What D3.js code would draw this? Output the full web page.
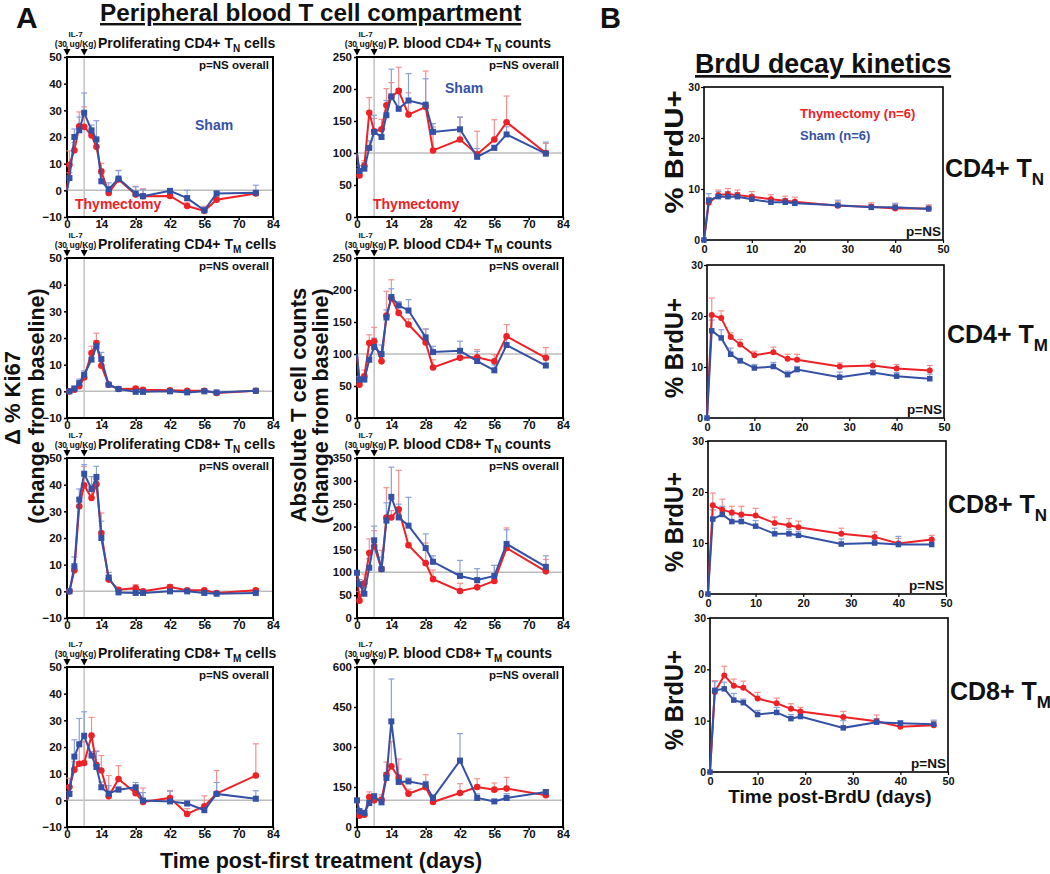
<!DOCTYPE html>
<html><head><meta charset="utf-8">
<script src="https://cdn.jsdelivr.net/npm/d3@7"></script>
<style>
body{margin:0;background:#fff;}
svg{display:block;font-family:"Liberation Sans",Arial,Helvetica,sans-serif;font-weight:bold;}
</style></head><body>
<svg id="chart" width="1050" height="874"></svg>
<script>
// ---------- DATA ----------
const daysA = [0,1,3,5,7,10,12,14,17,21,28,31,42,49,56,61,77];
const daysB = [0,1,3,5,7,10,14,17,19,28,35,40,47];

const ticksDays = [0,14,28,42,56,70,84];
const ticksProlif = [-10,0,10,20,30,40,50];
const ticksCount250 = [0,50,100,150,200,250];
const ticksCount350 = [0,50,100,150,200,250,300,350];
const ticksCount600 = [0,150,300,450,600];
const ticksBrduX = [0,10,20,30,40,50];
const ticksBrduY = [0,10,20,30];

// A: Proliferating CD4+ TN
const prolifCD4N_thy     = [0,9.6,15,24,23.8,20.6,16.3,7.1,-1,4.1,-1.6,-2.2,-2.1,-5.9,-7.7,-3.5,-1.2];
const prolifCD4N_thyErr  = [0,5.2,3,5.4,7.5,2,3,3,2.3,3.4,3.1,2.8,1.5,1.5,1.7,1.5,1];
const prolifCD4N_sham    = [0,4.6,20,22.5,29.1,22.5,19.1,3.4,0.4,4.4,-1.2,-2.2,-0.2,-2.9,-7.5,-1.2,-0.9];
const prolifCD4N_shamErr = [0,2,3,5,7.4,2,7,3,2.4,3,2.5,2.5,0.6,2.9,1.2,1,2.8];
// A: P. blood CD4+ TN counts
const countCD4N_thy     = [100,65,80,163,134,137,174.5,187.5,197,160,172,104,121,98,121,148,100];
const countCD4N_thyErr  = [0,10,8,23.5,20,15.6,26,22.5,37,34,56,36.6,35,36,31,41,15];
const countCD4N_sham    = [100,72,75.5,108,133,125,159,188.5,169,182,175.5,133,137,94,108,129,99];
const countCD4N_shamErr = [0,8,9.5,11,26,13,23,42.5,31,42,40.5,13,19,13,4,12,18];
// A: Proliferating CD4+ TM
const prolifCD4M_thy     = [0,0,0.6,1.9,5.2,14.4,18.1,9.6,2.5,0.9,1,0.6,0.4,0.2,0.2,-0.6,0.2];
const prolifCD4M_thyErr  = [0,0.5,1,1.2,1.5,2.5,3.7,2,0.5,0.5,0.5,0.5,0.5,0.4,0.4,0.3,0.3];
const prolifCD4M_sham    = [0,0,1,3.1,6.2,11.9,16.9,12.1,2.5,0.9,-0.2,-0.2,0,-0.4,0,-0.4,0.2];
const prolifCD4M_shamErr = [0,0.5,1,1.5,1.5,2,2,2.5,0.5,0.5,0.5,0.3,0.5,0.3,0.3,0.3,0.3];
// A: P. blood CD4+ TM counts
const countCD4M_thy     = [100,52,65,117,120,88.5,160,187,164,146,118,79,94,95,88.5,127.6,94];
const countCD4M_thyErr  = [0,5,10,13,21.7,8,38,29,12,9,21,12,10,12,10.5,18.4,16];
const countCD4M_sham    = [100,60,60,91,111,100,157,189,176,168,126,103,105,89,74.5,114,82];
const countCD4M_shamErr = [0,5,8,8,14,14,12,13,6,17,13,9,15,15,8.5,11,9];
// A: Proliferating CD8+ TN
const prolifCD8N_thy     = [0,0,7.9,31.9,39.8,35,40.2,21.9,4.4,0.6,1.2,0,1.6,0.4,0.4,-0.6,0.4];
const prolifCD8N_thyErr  = [0,0.5,1.5,3,7,3,1.5,7.5,1.5,0.6,1.3,0.5,0.9,0.5,0.5,0.4,0.5];
const prolifCD8N_sham    = [0,0,9.4,34.4,44.1,38.4,42.9,20,5.2,-0.4,-0.6,-0.6,0,0,-0.6,-0.9,-0.6];
const prolifCD8N_shamErr = [0,0.5,3.5,4,3.4,4.6,4,6.3,1.9,0.5,0.5,0.5,0.5,0.5,0.5,0.4,0.5];
// A: P. blood CD8+ TN counts
const countCD8N_thy     = [100,38,76,142,157,107,220,220,238,159,120,85,59,67,81,153,102];
const countCD8N_thyErr  = [0,20,20,31,34,41,65,15,85,5,44,20,17,10,34,44,26];
const countCD8N_sham    = [99,74,53,110,170,107,213,265,220,202,153,123,92,83,92,162,112];
const countCD8N_shamErr = [0,10,15,20,31,26,39,65,29,62,31,13,34,25,23,31,24];
// A: Proliferating CD8+ TM
const prolifCD8M_thy     = [0,5,11.5,13.7,14,24.3,13.3,11.2,1.5,8,2.7,-0.6,0.9,-5.1,-2.2,2.5,9.3];
const prolifCD8M_thyErr  = [0,3.3,3,8,8,6.8,5,5.6,7.8,5,2,5.2,2.8,2,3.9,8.7,11.9];
const prolifCD8M_sham    = [0,2.4,16.4,21,24.2,16.8,12.5,4.9,2.5,4,4.9,-0.1,-0.4,-1.2,-3.7,2.4,0.6];
const prolifCD8M_shamErr = [0,1,6.3,9.7,9,1.5,6,2,3,1,1.8,3,3.8,1,1,4.3,3];
// A: P. blood CD8+ TM counts
const countCD8M_thy     = [100,42.5,46,112.5,100,102.5,196,227.5,186,125,149,94,127.5,150,140,144,119];
const countCD8M_thyErr  = [0,10,10,19,15,18,48,93,69,17,47,10,35,31,25,42,17];
const countCD8M_sham    = [100,59,52.5,90,115,92.5,184,396,169,171,159,109,249,109,96,109,131];
const countCD8M_shamErr = [0,10,10,10,10,10,20,159,10,13,12,12,101,15,6,16,9];

// B: BrdU decay
const brduCD4N_thy     = [0,7.3,8.8,9.0,8.8,8.5,8.0,7.7,7.5,6.7,6.5,6.2,6.2];
const brduCD4N_thyErr  = [0,1,1,1.1,1,1,0.9,0.9,0.9,0.8,0.8,0.8,0.7];
const brduCD4N_sham    = [0,7.8,8.5,8.5,8.5,8.0,7.4,7.4,7.2,6.8,6.4,6.4,6.1];
const brduCD4N_shamErr = [0,1.3,1,1,0.8,0.8,0.7,0.7,0.6,1,0.6,0.8,0.6];
const brduCD4M_thy     = [0,20.2,19.6,15.9,14.4,12.3,12.9,11.6,11.4,10.1,10.3,9.7,9.3];
const brduCD4M_thyErr  = [0,3.3,1.4,0.8,1,0.8,1,0.9,1.1,0.7,0.9,0.8,1];
const brduCD4M_sham    = [0,17.1,15.7,12.5,11.2,9.8,10.1,8.5,9.5,8.0,8.9,8.2,7.7];
const brduCD4M_shamErr = [0,2.1,1.6,1.2,0.5,0.7,0.8,0.7,0.6,1,0.5,0.7,0.9];
const brduCD8N_thy     = [0,17.4,16.5,16.0,15.6,15.4,13.9,13.5,13.1,11.8,11.2,9.9,10.7];
const brduCD8N_thyErr  = [0,2.4,2.1,1.2,1.6,1.4,1.2,1.3,1.2,1.1,1,1,0.8];
const brduCD8N_sham    = [0,14.7,15.6,14.2,14.2,13.3,11.8,11.8,11.5,9.8,10,9.7,9.7];
const brduCD8N_shamErr = [0,1.8,1.6,1.3,0.9,1.1,1.1,0.9,0.8,1,0.6,1.6,0.8];
const brduCD8M_thy     = [0,15.6,18.8,16.8,16.4,14.3,13.4,12.3,11.8,10.7,9.9,8.8,9.1];
const brduCD8M_thyErr  = [0,2.2,1.8,1.3,1.3,1.2,1,1,0.8,1.1,1.2,0.8,0.8];
const brduCD8M_sham    = [0,15.9,16.2,14.0,13.5,11.2,11.6,10.4,10.8,8.6,9.7,9.5,9.3];
const brduCD8M_shamErr = [0,1.7,1.3,1.3,0.7,0.8,1,0.8,0.7,1.4,0.7,0.5,0.8];

// ---------- STYLE ----------
const RED = "#ec2227", BLUE = "#3551a6", RED_ERR = "#f5908f", BLUE_ERR = "#8aa0d8";
const svg = d3.select("#chart");

// parts: strings or {sub, size, dy}; the dy of a subscript is undone on the next part
function richText(parent, x, y, parts, size, color, anchor) {
  const t = parent.append("text").attr("x", x).attr("y", y)
    .attr("font-size", size).attr("fill", color || "#111")
    .attr("text-anchor", anchor || "start");
  let pending = 0;
  parts.forEach(p => {
    if (typeof p === "string") {
      const ts = t.append("tspan").text(p);
      if (pending) { ts.attr("dy", -pending); pending = 0; }
    } else {
      t.append("tspan").attr("font-size", p.size).attr("dy", p.dy).text(p.sub);
      pending = p.dy;
    }
  });
  return t;
}

function styleAxis(sel, fs, sw) {
  sel.attr("font-family", null).attr("font-size", null);
  sel.select(".domain").remove();
  sel.selectAll(".tick line").attr("stroke", "#000").attr("stroke-width", sw);
  sel.selectAll(".tick text").attr("fill", "#111").attr("font-size", fs).style("font-weight", "bold");
}

function drawPanel(o) {
  const g = svg.append("g").attr("transform", `translate(${o.x},${o.y})`);
  const x = d3.scaleLinear().domain(o.xDomain).range([0, o.w]);
  const y = d3.scaleLinear().domain(o.yDomain).range([o.h, 0]);

  if (o.ref != null) {
    g.append("line").attr("x1", 0).attr("x2", o.w).attr("y1", y(o.ref)).attr("y2", y(o.ref))
      .attr("stroke", "#bcbcbc").attr("stroke-width", 1.5);
  }
  if (o.il7) {
    g.append("line").attr("x1", x(7)).attr("x2", x(7)).attr("y1", 0).attr("y2", o.h)
      .attr("stroke", "#c4c4c4").attr("stroke-width", 1.5);
    [0, 7].forEach(d => {
      g.append("line").attr("x1", x(d)).attr("x2", x(d)).attr("y1", -11).attr("y2", -7)
        .attr("stroke", "#000").attr("stroke-width", 1);
      g.append("path").attr("d", `M${x(d)-3.5},${-8} L${x(d)+3.5},${-8} L${x(d)},${-1.5} Z`).attr("fill", "#000");
    });
    g.append("text").attr("x", x(3.5)).attr("y", -20).attr("text-anchor", "middle")
      .attr("font-size", 8).attr("fill", "#111").text("IL-7");
    g.append("text").attr("x", x(3.5)).attr("y", -10.5).attr("text-anchor", "middle")
      .attr("font-size", 8.5).attr("fill", "#111").text("(30 ug/Kg)");
  }

  const ax = g.append("g").attr("transform", `translate(0,${o.h})`)
    .call(d3.axisBottom(x).tickValues(o.xTicks).tickSize(3).tickPadding(o.xPad));
  styleAxis(ax, o.tickFs, o.frameW * 0.75);
  const ay = g.append("g")
    .call(d3.axisLeft(y).tickValues(o.yTicks).tickSize(3).tickPadding(o.yPad));
  styleAxis(ay, o.yTickFs || o.tickFs, o.frameW * 0.75);

  g.append("rect").attr("width", o.w).attr("height", o.h).attr("fill", "none")
    .attr("stroke", "#000").attr("stroke-width", o.frameW);

  const series = [
    {v: o.thy, e: o.thyErr, c: RED, ec: RED_ERR, shape: "circle"},
    {v: o.sham, e: o.shamErr, c: BLUE, ec: BLUE_ERR, shape: "square"}
  ];
  // error bars (upper SEM with cap)
  series.forEach(s => {
    o.days.forEach((d, i) => {
      if (!s.e[i]) return;
      const xp = x(d), y0 = y(s.v[i]), y1 = y(s.v[i] + s.e[i]);
      g.append("line").attr("x1", xp).attr("x2", xp).attr("y1", y0).attr("y2", y1)
        .attr("stroke", s.ec).attr("stroke-width", 1.2);
      g.append("line").attr("x1", xp - o.cap).attr("x2", xp + o.cap).attr("y1", y1).attr("y2", y1)
        .attr("stroke", s.ec).attr("stroke-width", 1.2);
    });
  });
  // lines and markers
  series.forEach(s => {
    const pts = o.days.map((d, i) => [d, s.v[i]]);
    g.append("path").datum(pts)
      .attr("d", d3.line().x(p => x(p[0])).y(p => y(p[1])))
      .attr("fill", "none").attr("stroke", s.c).attr("stroke-width", o.lineW);
    pts.forEach((p, i) => {
      if (i === 0 && !(s.shape === "square" && o.mark0)) return;
      if (s.shape === "circle") {
        g.append("circle").attr("cx", x(p[0])).attr("cy", y(p[1])).attr("r", o.r).attr("fill", s.c);
      } else {
        g.append("rect").attr("x", x(p[0]) - o.sq / 2).attr("y", y(p[1]) - o.sq / 2)
          .attr("width", o.sq).attr("height", o.sq).attr("fill", s.c);
      }
    });
  });

  if (o.title) richText(svg, o.x + 31, o.y - 9, o.title, 14, "#111");
  if (o.pText === "overall") {
    g.append("text").attr("x", o.w - 4).attr("y", 12).attr("text-anchor", "end")
      .attr("font-size", 11.5).attr("fill", "#111").text("p=NS overall");
  } else if (o.pText === "ns") {
    g.append("text").attr("x", o.w - 2).attr("y", o.h - 4).attr("text-anchor", "end")
      .attr("font-size", 13.5).attr("fill", "#111").text("p=NS");
  }
  return g;
}

// ---------- PANEL A ----------
const colL = 67, colM = 357, wA = 206, hA = 160;
const rowTops = [57, 258, 458, 667];
const baseA = {w: wA, h: hA, xDomain: [0, 84], xTicks: ticksDays, days: daysA, il7: true,
  tickFs: 11.5, frameW: 2, lineW: 2, r: 3.3, sq: 6, cap: 3, xPad: 0, yPad: 2, pText: "overall"};
const sub = s => ({sub: s, size: 10, dy: 4});

drawPanel({...baseA, x: colL, y: rowTops[0], yDomain: [-10, 50], yTicks: ticksProlif, ref: 0,
  thy: prolifCD4N_thy, thyErr: prolifCD4N_thyErr, sham: prolifCD4N_sham, shamErr: prolifCD4N_shamErr,
  title: ["Proliferating CD4+ T", sub("N"), " cells"]});
drawPanel({...baseA, x: colM, y: rowTops[0], yDomain: [0, 250], yTicks: ticksCount250, ref: 100,
  thy: countCD4N_thy, thyErr: countCD4N_thyErr, sham: countCD4N_sham, shamErr: countCD4N_shamErr,
  title: ["P. blood CD4+ T", sub("N"), " counts"]});
drawPanel({...baseA, x: colL, y: rowTops[1], yDomain: [-10, 50], yTicks: ticksProlif, ref: 0,
  thy: prolifCD4M_thy, thyErr: prolifCD4M_thyErr, sham: prolifCD4M_sham, shamErr: prolifCD4M_shamErr,
  title: ["Proliferating CD4+ T", sub("M"), " cells"]});
drawPanel({...baseA, x: colM, y: rowTops[1], yDomain: [0, 250], yTicks: ticksCount250, ref: 100,
  thy: countCD4M_thy, thyErr: countCD4M_thyErr, sham: countCD4M_sham, shamErr: countCD4M_shamErr,
  title: ["P. blood CD4+ T", sub("M"), " counts"]});
drawPanel({...baseA, x: colL, y: rowTops[2], yDomain: [-10, 50], yTicks: ticksProlif, ref: 0,
  thy: prolifCD8N_thy, thyErr: prolifCD8N_thyErr, sham: prolifCD8N_sham, shamErr: prolifCD8N_shamErr,
  title: ["Proliferating CD8+ T", sub("N"), " cells"]});
drawPanel({...baseA, x: colM, y: rowTops[2], yDomain: [0, 350], yTicks: ticksCount350, ref: 100, mark0: true,
  thy: countCD8N_thy, thyErr: countCD8N_thyErr, sham: countCD8N_sham, shamErr: countCD8N_shamErr,
  title: ["P. blood CD8+ T", sub("N"), " counts"]});
drawPanel({...baseA, x: colL, y: rowTops[3], yDomain: [-10, 50], yTicks: ticksProlif, ref: 0,
  thy: prolifCD8M_thy, thyErr: prolifCD8M_thyErr, sham: prolifCD8M_sham, shamErr: prolifCD8M_shamErr,
  title: ["Proliferating CD8+ T", sub("M"), " cells"]});
drawPanel({...baseA, x: colM, y: rowTops[3], yDomain: [0, 600], yTicks: ticksCount600, ref: 100, mark0: true,
  thy: countCD8M_thy, thyErr: countCD8M_thyErr, sham: countCD8M_sham, shamErr: countCD8M_shamErr,
  title: ["P. blood CD8+ T", sub("M"), " counts"]});

// Series labels in top row
svg.append("text").attr("x", 195).attr("y", 130).attr("font-size", 14).attr("fill", BLUE).text("Sham");
svg.append("text").attr("x", 75).attr("y", 209).attr("font-size", 14).attr("fill", RED).text("Thymectomy");
svg.append("text").attr("x", 445).attr("y", 93).attr("font-size", 14).attr("fill", BLUE).text("Sham");
svg.append("text").attr("x", 373).attr("y", 209).attr("font-size", 14).attr("fill", RED).text("Thymectomy");

// Headings A
svg.append("text").attr("x", 16).attr("y", 28).attr("font-size", 30).attr("fill", "#111").text("A");
svg.append("text").attr("x", 100).attr("y", 21).attr("font-size", 24.3).attr("fill", "#111")
  .attr("text-decoration", "underline").text("Peripheral blood T cell compartment");

// Axis titles A
function vText(x, y, txt, size, len) {
  const t = svg.append("text").attr("transform", `translate(${x},${y}) rotate(-90)`)
    .attr("text-anchor", "middle").attr("font-size", size).attr("fill", "#111").text(txt);
  if (len) t.attr("textLength", len).attr("lengthAdjust", "spacingAndGlyphs");
  return t;
}
vText(20, 398, "\u0394 % Ki67", 22);
vText(44, 406, "(change from baseline)", 21.5);
vText(306, 405, "Absolute T cell counts", 22);
vText(328, 406, "(change from baseline)", 21.5);
svg.append("text").attr("x", 321).attr("y", 868).attr("text-anchor", "middle").attr("font-size", 21.5)
  .attr("fill", "#111").text("Time post-first treatment (days)");

// ---------- PANEL B ----------
const baseB = {xDomain: [0, 50], xTicks: ticksBrduX, yDomain: [0, 30], yTicks: ticksBrduY, days: daysB,
  tickFs: 11, yTickFs: 10.5, frameW: 1.6, lineW: 2, r: 3, sq: 5.5, cap: 3, xPad: 2, yPad: 1, pText: "ns", mark0: true, ref: null};
drawPanel({...baseB, x: 704, y: 87, w: 239, h: 153,
  thy: brduCD4N_thy, thyErr: brduCD4N_thyErr, sham: brduCD4N_sham, shamErr: brduCD4N_shamErr});
drawPanel({...baseB, x: 707, y: 265, w: 237, h: 153,
  thy: brduCD4M_thy, thyErr: brduCD4M_thyErr, sham: brduCD4M_sham, shamErr: brduCD4M_shamErr});
drawPanel({...baseB, x: 708, y: 441, w: 238, h: 153,
  thy: brduCD8N_thy, thyErr: brduCD8N_thyErr, sham: brduCD8N_sham, shamErr: brduCD8N_shamErr});
drawPanel({...baseB, x: 710, y: 618, w: 238, h: 154,
  thy: brduCD8M_thy, thyErr: brduCD8M_thyErr, sham: brduCD8M_sham, shamErr: brduCD8M_shamErr});

svg.append("text").attr("x", 600).attr("y", 28).attr("font-size", 29).attr("fill", "#111").text("B");
svg.append("text").attr("x", 695).attr("y", 73).attr("font-size", 26.8).attr("fill", "#111")
  .attr("text-decoration", "underline").text("BrdU decay kinetics");
svg.append("text").attr("x", 800).attr("y", 118).attr("font-size", 13).attr("fill", RED).text("Thymectomy (n=6)");
svg.append("text").attr("x", 800).attr("y", 140).attr("font-size", 13).attr("fill", BLUE).text("Sham (n=6)");

vText(683, 152, "% BrdU+", 26, 123);
vText(683, 348, "% BrdU+", 25, 100);
vText(683, 522, "% BrdU+", 25, 100);
vText(683, 700, "% BrdU+", 25, 100);

const subB = s => ({sub: s, size: 17, dy: 8});
richText(svg, 945, 177, ["CD4+ T", subB("N")], 25, "#111");
richText(svg, 947, 343, ["CD4+ T", subB("M")], 25, "#111");
richText(svg, 948, 513, ["CD8+ T", subB("N")], 25, "#111");
richText(svg, 950, 700, ["CD8+ T", subB("M")], 25, "#111");

svg.append("text").attr("x", 830).attr("y", 803).attr("text-anchor", "middle").attr("font-size", 19)
  .attr("fill", "#111").text("Time post-BrdU (days)");
</script>
</body></html>
